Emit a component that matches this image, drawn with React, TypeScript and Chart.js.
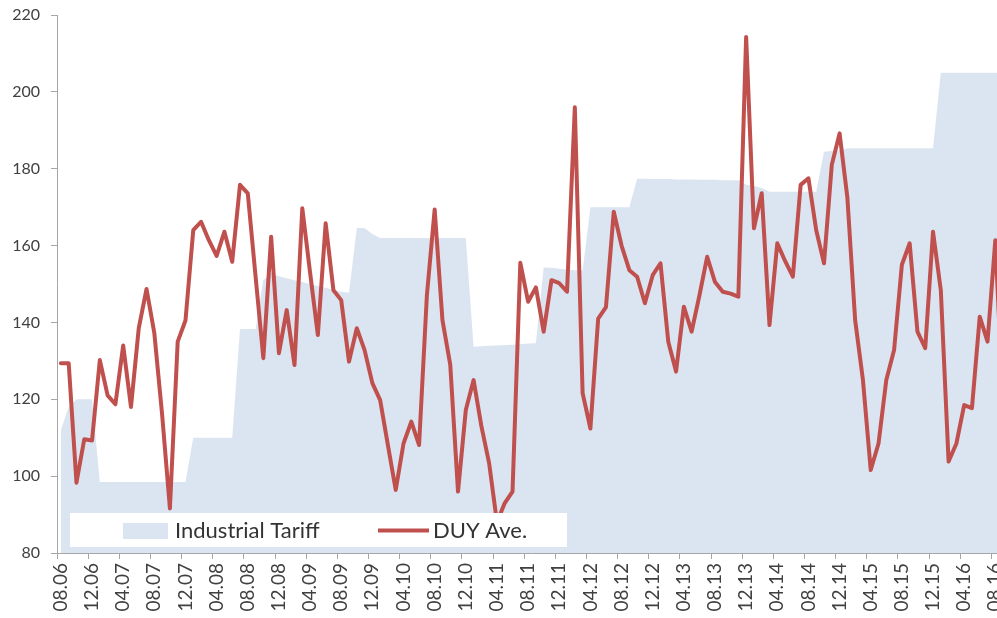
import { useEffect, useRef } from "react";
import { Chart, registerables } from "chart.js";

Chart.register(...registerables);

// Monthly categories, Aug 2006 .. Sep 2016
const months: string[] = [
  "08.06", "09.06", "10.06", "11.06", "12.06",
  "01.07", "02.07", "03.07", "04.07", "05.07", "06.07", "07.07", "08.07", "09.07", "10.07", "11.07", "12.07",
  "01.08", "02.08", "03.08", "04.08", "05.08", "06.08", "07.08", "08.08", "09.08", "10.08", "11.08", "12.08",
  "01.09", "02.09", "03.09", "04.09", "05.09", "06.09", "07.09", "08.09", "09.09", "10.09", "11.09", "12.09",
  "01.10", "02.10", "03.10", "04.10", "05.10", "06.10", "07.10", "08.10", "09.10", "10.10", "11.10", "12.10",
  "01.11", "02.11", "03.11", "04.11", "05.11", "06.11", "07.11", "08.11", "09.11", "10.11", "11.11", "12.11",
  "01.12", "02.12", "03.12", "04.12", "05.12", "06.12", "07.12", "08.12", "09.12", "10.12", "11.12", "12.12",
  "01.13", "02.13", "03.13", "04.13", "05.13", "06.13", "07.13", "08.13", "09.13", "10.13", "11.13", "12.13",
  "01.14", "02.14", "03.14", "04.14", "05.14", "06.14", "07.14", "08.14", "09.14", "10.14", "11.14", "12.14",
  "01.15", "02.15", "03.15", "04.15", "05.15", "06.15", "07.15", "08.15", "09.15", "10.15", "11.15", "12.15",
  "01.16", "02.16", "03.16", "04.16", "05.16", "06.16", "07.16", "08.16", "09.16",
];

const industrialTariff: number[] = [
  112, 118, 120, 120, 120,
  98.5, 98.5, 98.5, 98.5, 98.5, 98.5, 98.5, 98.5, 98.5, 98.5, 98.5, 98.5,
  110, 110, 110, 110, 110, 110,
  138.3, 138.3, 138.3,
  151, 152.8,
  152, 151.5, 151, 150.5, 150, 149.5, 149, 148.5, 148,
  147.7,
  164.6, 164.6, 163,
  162, 162, 162, 162, 162, 162, 162, 162, 162, 162, 162, 162,
  133.7, 133.8, 133.9, 134, 134.1, 134.2, 134.3, 134.5, 134.6,
  154.3, 154.2, 154, 153.8, 153.6, 153.5,
  170, 170, 170, 170, 170, 170,
  177.4, 177.4, 177.3, 177.3, 177.3, 177.2, 177.2, 177.2, 177.1, 177.1, 177.1, 177, 177, 177,
  175.8, 175.5, 175,
  174, 174, 174, 174, 174, 174, 174,
  184.4, 184.6, 184.8,
  185.3, 185.3, 185.3, 185.3, 185.3, 185.3, 185.3, 185.3, 185.3, 185.3, 185.3, 185.3,
  205, 205, 205, 205, 205, 205, 205, 205, 205,
];

const duyAve: number[] = [
  129.4, 129.4, 98.3, 109.6, 109.3, 130.2, 121, 118.7, 134, 118,
  138.5, 148.7, 137.2, 116, 91.6, 135, 140.5, 164, 166.2, 161.4,
  157.3, 163.6, 155.8, 175.8, 173.6, 152, 130.7, 162.3, 132, 143.2,
  128.9, 169.7, 153, 136.7, 165.8, 148.4, 145.8, 129.8, 138.5, 132.8,
  124.2, 119.8, 108, 96.4, 108.5, 114.2, 108.1, 147, 169.4, 140.6,
  129, 96, 117.2, 125, 113, 103.3, 88, 93, 96, 155.5,
  145.4, 149.1, 137.6, 151, 150.2, 148, 196, 121.6, 112.4, 141,
  144, 168.8, 160, 153.6, 151.9, 145, 152.3, 155.4, 135, 127.2,
  144.1, 137.6, 147, 157.1, 150.5, 148, 147.5, 146.7, 214.3, 164.5,
  173.6, 139.3, 160.6, 156, 151.9, 175.8, 177.5, 164, 155.4, 181,
  189.2, 172.5, 140.6, 125, 101.6, 108.5, 125, 132.8, 155, 160.6,
  137.6, 133.3, 163.6, 148.4, 103.8, 108.5, 118.5, 117.7, 141.5, 135,
  161.4, 118,
];

const yMin = 80;
const yMax = 220;
const yStep = 20;
const labelEvery = 4;

const seriesNames = ["Industrial Tariff", "DUY Ave."];

const tariffColor = "rgb(219,229,241)";
const lineColor = "rgb(192,80,77)";
const axisColor = "#a6a6a6";
const textColor = "#404040";
const fontFamily = "Lato, 'Open Sans', sans-serif";

const insideLegend = {
  id: "insideLegend",
  afterDatasetsDraw(chart: any) {
    const { ctx, chartArea } = chart;
    const left = chartArea.left + 13;
    const top = chartArea.bottom - 40;
    ctx.save();
    ctx.fillStyle = "#ffffff";
    ctx.fillRect(left, top, 497, 34);
    ctx.fillStyle = tariffColor;
    ctx.fillRect(left + 53, top + 10, 45, 16);
    ctx.font = `22px ${fontFamily}`;
    ctx.fillStyle = "#333333";
    ctx.textBaseline = "alphabetic";
    ctx.textAlign = "left";
    ctx.fillText(seriesNames[0], left + 105, top + 24.5);
    ctx.strokeStyle = lineColor;
    ctx.lineWidth = 4;
    ctx.beginPath();
    ctx.moveTo(left + 308, top + 17.5);
    ctx.lineTo(left + 359, top + 17.5);
    ctx.stroke();
    ctx.fillText(seriesNames[1], left + 363, top + 24.5);
    ctx.restore();
  },
};

export default function App() {
  const canvasRef = useRef<HTMLCanvasElement | null>(null);

  useEffect(() => {
    if (!canvasRef.current) return;
    const chart = new Chart(canvasRef.current, {
      type: "line",
      data: {
        labels: months,
        datasets: [
          {
            label: seriesNames[1],
            data: duyAve,
            borderColor: lineColor,
            borderWidth: 4,
            pointRadius: 0,
            tension: 0,
            fill: false,
            borderJoinStyle: "round",
            borderCapStyle: "round",
            order: 0,
          },
          {
            label: seriesNames[0],
            data: industrialTariff,
            borderWidth: 0,
            borderColor: "transparent",
            backgroundColor: tariffColor,
            pointRadius: 0,
            tension: 0,
            fill: "start",
            order: 1,
          },
        ],
      },
      options: {
        animation: false,
        responsive: false,
        maintainAspectRatio: false,
        layout: { padding: { top: 15, left: 0, right: 0, bottom: 0 } },
        plugins: {
          legend: { display: false },
          tooltip: { enabled: false },
        },
        scales: {
          x: {
            type: "category",
            offset: true,
            z: 1,
            grid: {
              offset: true,
              drawOnChartArea: false,
              drawTicks: true,
              tickLength: 6,
              color: (c: any) =>
                typeof c.index === "number" && c.index % labelEvery === 0 ? axisColor : "transparent",
            },
            border: { display: true, color: axisColor, width: 1 },
            ticks: {
              autoSkip: false,
              minRotation: 90,
              maxRotation: 90,
              padding: 4,
              color: textColor,
              font: { family: fontFamily, size: 19 },
              callback: (_v: any, i: number) => (i % labelEvery === 0 ? months[i] : ""),
            },
            afterFit: (s: any) => {
              s.height = 65;
              s.paddingLeft = 0;
              s.paddingRight = 0;
            },
          },
          y: {
            min: yMin,
            max: yMax,
            z: 1,
            grid: {
              drawOnChartArea: false,
              drawTicks: true,
              tickLength: 6,
              color: axisColor,
            },
            border: { display: true, color: axisColor, width: 1 },
            ticks: {
              stepSize: yStep,
              padding: 11,
              color: textColor,
              font: { family: fontFamily, size: 16 },
            },
            afterFit: (s: any) => {
              s.width = 57;
              s.paddingTop = 0;
              s.paddingBottom = 0;
            },
          },
        },
      },
      plugins: [insideLegend],
    });
    return () => chart.destroy();
  }, []);

  return (
    <div
      style={{
        position: "fixed",
        left: 0,
        top: 0,
        width: 997,
        height: 618,
        overflow: "hidden",
        background: "#ffffff",
      }}
    >
      <canvas ref={canvasRef} width={1007} height={618} style={{ display: "block" }} />
    </div>
  );
}
